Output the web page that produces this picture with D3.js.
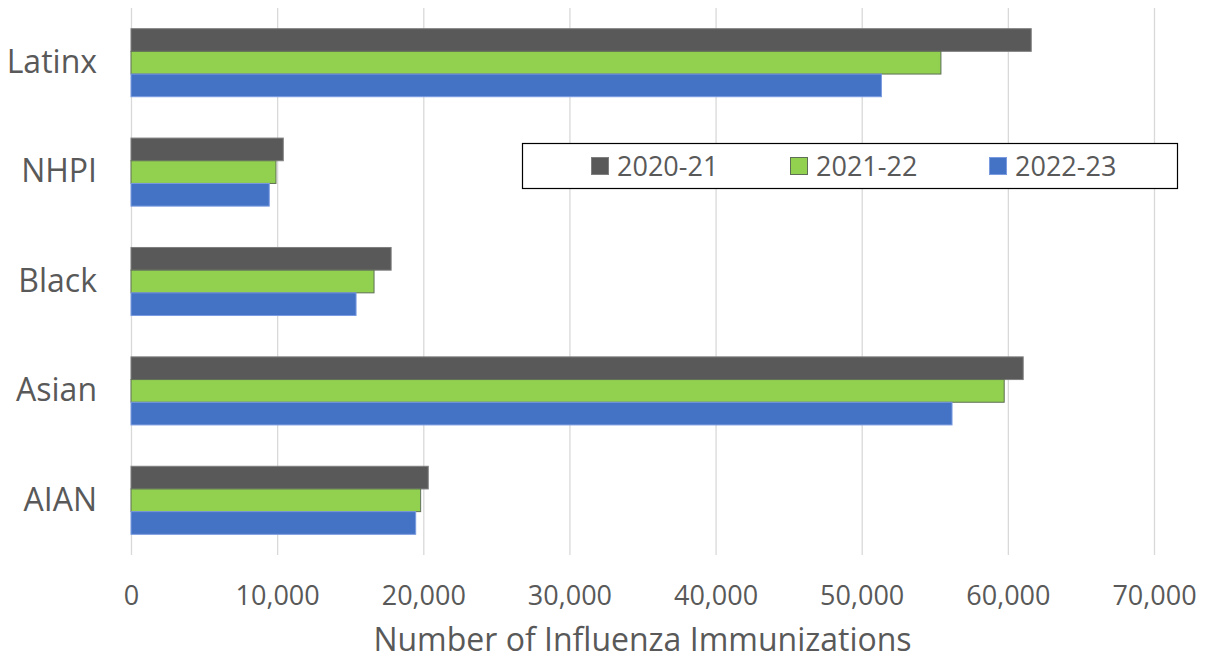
<!DOCTYPE html>
<html>
<head>
<meta charset="utf-8">
<script src="https://cdn.jsdelivr.net/npm/d3@7"></script>
<style>
  body { margin: 0; background: #fff; }
  text { font-family: "Open Sans", "Noto Sans", sans-serif; fill: #595959; }
</style>
</head>
<body>
<div id="chart"></div>
<script>
// data
let groups = ['Latinx', 'NHPI', 'Black', 'Asian', 'AIAN']
let seasons = ['2020-21', '2021-22', '2022-23']
let s2020 = [61600, 10420, 17800, 61050, 20340]
let s2021 = [55420, 9920, 16630, 59750, 19820]
let s2022 = [51350, 9460, 15400, 56180, 19480]
let xTicks = [0, 10000, 20000, 30000, 40000, 50000, 60000, 70000]

let colors = ['#595959', '#92d050', '#4472c4']
let strokes = ['#7f7f7f', '#5f6f55', '#7a9be0']

let W = 1212, H = 661
let margin = { top: 8, right: 58, bottom: 106, left: 131 }
let width = W - margin.left - margin.right
let height = H - margin.top - margin.bottom

let rows = groups.map((g, i) => ({ group: g, values: [s2020[i], s2021[i], s2022[i]] }))

let svg = d3.select('#chart')
    .append('svg')
    .attr('width', W)
    .attr('height', H)
    .append('g')
    .attr('transform', `translate(${margin.left}, ${margin.top})`)

let x = d3.scaleLinear()
    .domain([0, 70000])
    .range([0, width])

let y = d3.scaleBand()
    .domain(groups)
    .range([0, height])
    .paddingInner(0.378)
    .paddingOuter(0.189)

let ySub = d3.scaleBand()
    .domain(seasons)
    .range([0, y.bandwidth()])

// gridlines
svg.append('g')
    .selectAll('line')
    .data(xTicks)
    .join('line')
    .attr('x1', d => x(d) + 0.5)
    .attr('x2', d => x(d) + 0.5)
    .attr('y1', 0)
    .attr('y2', height)
    .attr('stroke', '#d9d9d9')
    .attr('stroke-width', 1.3)

// x axis labels
let xAxis = svg.append('g')
    .attr('transform', `translate(0, ${height})`)
    .call(d3.axisBottom(x).tickValues(xTicks).tickFormat(d3.format(',')).tickSize(0).tickPadding(31))
xAxis.select('.domain').remove()
xAxis.selectAll('text')
    .attr('font-size', 27)
    .attr('fill', '#595959')
    .style('font-family', '"Open Sans", sans-serif')

// y axis labels
let yAxis = svg.append('g')
    .call(d3.axisLeft(y).tickSize(0).tickPadding(34))
yAxis.select('.domain').remove()
yAxis.selectAll('text')
    .attr('font-size', 32)
    .attr('fill', '#595959')
    .style('font-family', '"Open Sans", sans-serif')

// bars
let bar = svg.selectAll('.bar-group')
    .data(rows)
    .join('g')
    .attr('class', 'bar-group')
    .attr('transform', d => `translate(0, ${y(d.group)})`)

bar.selectAll('rect')
    .data(d => d.values.map((v, k) => ({ season: seasons[k], value: v, k: k })))
    .join('rect')
    .attr('x', x(0))
    .attr('y', d => ySub(d.season))
    .attr('width', d => x(d.value) - x(0))
    .attr('height', ySub.bandwidth())
    .attr('fill', d => colors[d.k])
    .attr('stroke', d => strokes[d.k])
    .attr('stroke-width', 1)

// axis title
svg.append('text')
    .attr('x', width / 2)
    .attr('y', height + 96)
    .attr('text-anchor', 'middle')
    .attr('font-size', 32)
    .text('Number of Influenza Immunizations')

// legend
let legend = svg.append('g')
    .attr('transform', `translate(${522 - margin.left}, ${143 - margin.top})`)

legend.append('rect')
    .attr('x', 0.5)
    .attr('y', 0.5)
    .attr('width', 655)
    .attr('height', 45)
    .attr('fill', '#fff')
    .attr('stroke', '#000')
    .attr('stroke-width', 1.2)

let item = legend.selectAll('.item')
    .data(seasons)
    .join('g')
    .attr('class', 'item')
    .attr('transform', (d, i) => `translate(${69 + i * 199}, 0)`)

item.append('rect')
    .attr('x', 0.5)
    .attr('y', 14.5)
    .attr('width', 17)
    .attr('height', 17)
    .attr('fill', (d, i) => colors[i])
    .attr('stroke', (d, i) => strokes[i])

item.append('text')
    .attr('x', 26)
    .attr('y', 33)
    .attr('font-size', 27)
    .text(d => d)
</script>
</body>
</html>
